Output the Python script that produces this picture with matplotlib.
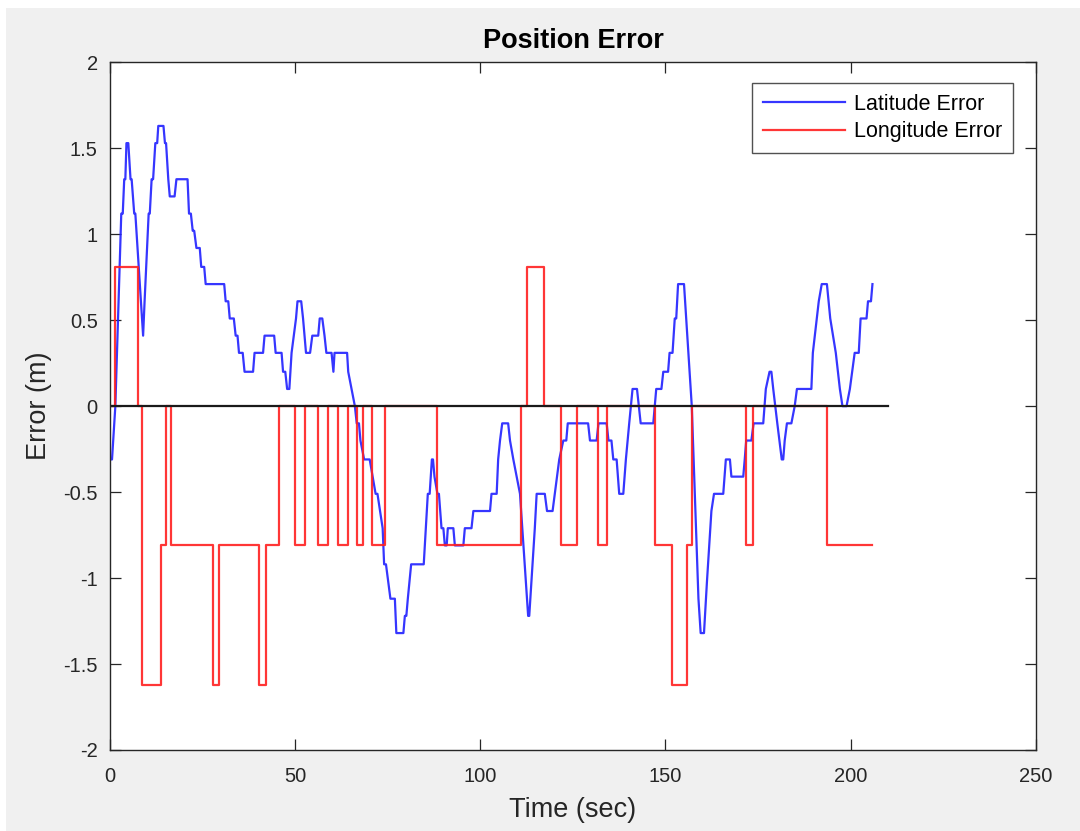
import numpy as np
import matplotlib
matplotlib.use("Agg")
import matplotlib.pyplot as plt
from matplotlib.patches import Rectangle

plt.rcParams['font.family'] = ['Liberation Sans', 'DejaVu Sans']

# latitude error: (time s, error m) vertices
lat_pts = [
    (0.0, -0.31), (0.5, -0.31), (1.4, 0.0), (3.0, 1.12), (3.4, 1.12), (3.8, 1.32),
    (4.1, 1.32), (4.4, 1.53), (4.9, 1.53), (5.5, 1.32), (5.8, 1.32), (6.5, 1.12),
    (6.8, 1.12), (8.9, 0.41), (9.3, 0.61), (10.4, 1.12), (10.7, 1.12), (11.2, 1.32),
    (11.6, 1.32), (12.2, 1.53), (12.7, 1.53), (13.0, 1.63), (14.4, 1.63), (14.8, 1.53),
    (15.1, 1.53), (15.7, 1.32), (16.1, 1.22), (17.4, 1.22), (17.9, 1.32), (20.9, 1.32),
    (21.3, 1.12), (21.8, 1.12), (22.3, 1.02), (22.7, 1.02), (23.3, 0.92), (24.2, 0.92),
    (24.6, 0.81), (25.4, 0.81), (25.8, 0.71), (30.8, 0.71), (31.2, 0.61), (31.9, 0.61),
    (32.3, 0.51), (33.4, 0.51), (33.9, 0.41), (34.4, 0.41), (34.8, 0.31), (35.8, 0.31),
    (36.3, 0.20), (38.6, 0.20), (39.0, 0.31), (41.3, 0.31), (41.7, 0.41), (44.3, 0.41),
    (44.7, 0.31), (46.3, 0.31), (46.7, 0.20), (47.3, 0.20), (47.8, 0.10), (48.4, 0.10),
    (49.0, 0.31), (49.6, 0.41), (50.2, 0.51), (50.6, 0.61), (51.6, 0.61), (52.1, 0.51),
    (52.9, 0.31), (54.0, 0.31), (54.6, 0.41), (56.2, 0.41), (56.6, 0.51), (57.3, 0.51),
    (57.9, 0.41), (58.4, 0.31), (59.8, 0.31), (60.3, 0.20), (60.6, 0.31), (64.0, 0.31),
    (64.3, 0.20), (65.2, 0.10), (66.1, 0.0), (66.6, -0.10), (67.2, -0.10), (67.6, -0.20),
    (68.6, -0.31), (70.1, -0.31), (71.7, -0.51), (72.2, -0.51), (73.6, -0.71), (74.0, -0.92),
    (74.5, -0.92), (75.7, -1.12), (76.9, -1.12), (77.3, -1.32), (79.2, -1.32), (79.6, -1.22),
    (80.0, -1.22), (80.4, -1.12), (81.3, -0.92), (84.7, -0.92), (85.8, -0.51), (86.3, -0.51),
    (86.9, -0.31), (87.2, -0.31), (87.6, -0.41), (88.4, -0.51), (88.8, -0.51), (89.5, -0.71),
    (90.0, -0.71), (90.4, -0.81), (90.9, -0.81), (91.2, -0.71), (92.7, -0.71), (93.1, -0.81),
    (95.4, -0.81), (95.8, -0.71), (97.6, -0.71), (98.1, -0.61), (102.6, -0.61), (103.0, -0.51),
    (104.4, -0.51), (104.8, -0.31), (105.3, -0.20), (105.9, -0.10), (107.5, -0.10), (108.0, -0.20),
    (108.9, -0.31), (109.8, -0.41), (110.7, -0.51), (112.9, -1.22), (113.2, -1.22), (114.7, -0.71),
    (115.2, -0.51), (117.4, -0.51), (118.0, -0.61), (119.5, -0.61), (120.1, -0.51), (121.3, -0.31),
    (122.4, -0.20), (123.2, -0.20), (123.6, -0.10), (129.1, -0.10), (129.6, -0.20), (131.4, -0.20),
    (131.9, -0.10), (134.1, -0.10), (134.6, -0.20), (135.4, -0.20), (135.9, -0.31), (136.8, -0.31),
    (137.5, -0.51), (138.6, -0.51), (139.3, -0.31), (140.2, -0.10), (141.1, 0.10), (142.3, 0.10),
    (143.3, -0.10), (146.7, -0.10), (147.5, 0.10), (148.9, 0.10), (149.4, 0.20), (150.7, 0.20),
    (151.1, 0.31), (151.9, 0.31), (152.5, 0.51), (152.9, 0.51), (153.4, 0.71), (155.0, 0.71),
    (156.2, 0.31), (157.1, 0.0), (158.9, -1.12), (159.5, -1.32), (160.4, -1.32), (161.2, -1.02),
    (162.4, -0.61), (163.1, -0.51), (165.6, -0.51), (166.3, -0.31), (167.4, -0.31), (167.8, -0.41),
    (171.0, -0.41), (171.4, -0.31), (171.8, -0.20), (173.2, -0.20), (173.8, -0.10), (176.4, -0.10),
    (177.1, 0.10), (178.1, 0.20), (178.6, 0.20), (179.1, 0.10), (180.2, -0.10), (181.4, -0.31),
    (181.8, -0.31), (182.2, -0.20), (182.8, -0.10), (184.0, -0.10), (184.9, 0.0), (185.5, 0.10),
    (189.4, 0.10), (189.8, 0.31), (191.4, 0.61), (192.2, 0.71), (193.6, 0.71), (194.5, 0.51),
    (196.0, 0.31), (197.1, 0.10), (197.8, 0.0), (198.9, 0.0), (199.8, 0.10), (201.1, 0.31),
    (202.2, 0.31), (202.7, 0.51), (204.3, 0.51), (204.7, 0.61), (205.5, 0.61), (205.9, 0.71),
]

# longitude error: level changes (time s, new level m)
lon_t = [0.0, 1.2, 7.4, 8.7, 13.7, 15.0, 16.5, 27.8, 29.5, 40.3, 42.0, 45.7, 49.8,
         52.6, 56.2, 58.9, 61.5, 64.3, 66.8, 68.4, 70.6, 74.2, 88.2, 111.1, 112.7,
         117.2, 121.9, 126.1, 131.9, 134.2, 147.2, 151.7, 155.8, 157.2, 171.8, 173.6,
         193.6, 205.7]
lon_v = [0.0, 0.81, 0.0, -1.62, -0.81, 0.0, -0.81, -1.62, -0.81, -1.62, -0.81, 0.0, -0.81,
         0.0, -0.81, 0.0, -0.81, 0.0, -0.81, 0.0, -0.81, 0.0, -0.81, 0.0, 0.81,
         0.0, -0.81, 0.0, -0.81, 0.0, -0.81, -1.62, -0.81, 0.0, -0.81, 0.0,
         -0.81, -0.81]

ref_t = [0, 210]
ref_v = [0, 0]

lat_t = [p[0] for p in lat_pts]
lat_v = [p[1] for p in lat_pts]

fig = plt.figure(figsize=(10.8, 8.31), dpi=100, facecolor="white")
fig.patches.append(Rectangle((6 / 1080, 0), 1, 1 - 8 / 831, transform=fig.transFigure,
                             facecolor="#f0f0f0", edgecolor="none", zorder=-10))
ax = fig.add_axes([0.102, 0.0975, 0.857, 0.8275])
ax.set_facecolor("white")

ax.plot(lat_t, lat_v, color="#2020ff", lw=1.6, alpha=0.9, label="Latitude Error")
ax.step(lon_t, lon_v, where="post", color="#ff2020", lw=1.6, alpha=0.9, label="Longitude Error")
ax.plot(ref_t, ref_v, color="#1a1a1a", lw=1.6)

ax.set_xlim(0, 250)
ax.set_ylim(-2, 2)
ax.set_xticks(np.arange(0, 251, 50))
ax.set_yticks(np.arange(-2, 2.01, 0.5))
ax.set_yticklabels(["-2", "-1.5", "-1", "-0.5", "0", "0.5", "1", "1.5", "2"])

ax.tick_params(direction="in", top=True, right=True, length=8, width=0.9,
               colors="#262626", labelsize=14.5)
ax.tick_params(axis="x", pad=12)
ax.tick_params(axis="y", pad=9)
for s in ax.spines.values():
    s.set_color("#262626")
    s.set_linewidth(1.0)

ax.set_title("Position Error", fontsize=19.5, fontweight="bold", color="black", pad=10)
ax.set_xlabel("Time (sec)", fontsize=19.5, color="#262626", labelpad=8)
ax.set_ylabel("Error (m)", fontsize=19.5, color="#262626", labelpad=8)

leg = ax.legend(loc="upper right", fontsize=15.5, frameon=True, fancybox=False,
                edgecolor="#262626", handlelength=3.8, handletextpad=0.4,
                borderpad=0.5, labelspacing=0.3, borderaxespad=0,
                bbox_to_anchor=(0.975, 0.970))
leg.get_frame().set_linewidth(1.0)

fig.savefig("out.png", dpi=100, facecolor=fig.get_facecolor())
